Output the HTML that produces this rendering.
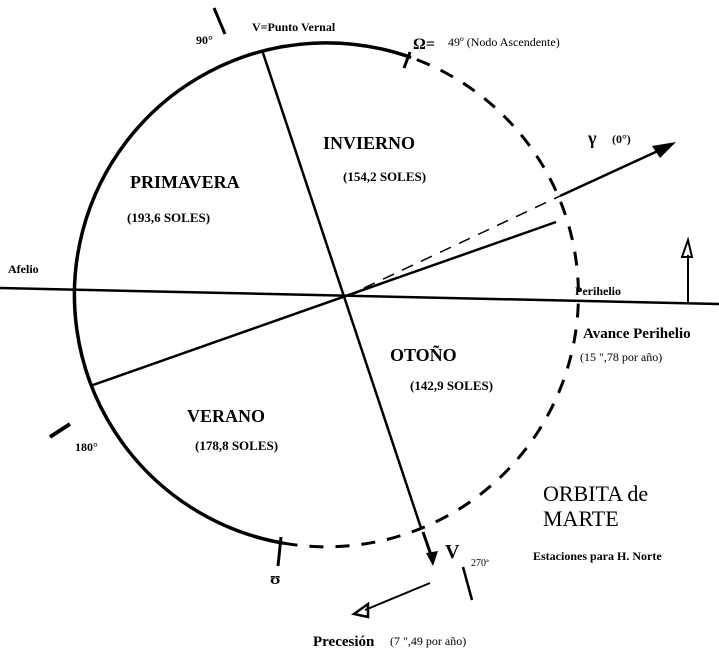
<!DOCTYPE html>
<html><head><meta charset="utf-8"><style>
html,body{margin:0;padding:0;background:#fff;}
svg{display:block;}
text{font-family:"Liberation Serif",serif;fill:#000;}
.b{font-weight:bold;}
</style></head><body>
<svg width="719" height="659" viewBox="0 0 719 659" xmlns="http://www.w3.org/2000/svg">
<!-- orbit solid -->
<path d="M411.1,57.5 A252,252 0 1 0 283.7,543.2" fill="none" stroke="#000" stroke-width="3.5"/>
<!-- orbit dashed -->
<path d="M283.7,543.2 A252,252 0 0 0 411.1,57.5" fill="none" stroke="#000" stroke-width="3" stroke-dasharray="14,12"/>
<!-- axes -->
<line x1="0" y1="288" x2="719" y2="304" stroke="#000" stroke-width="2.5"/>
<line x1="262" y1="50" x2="421" y2="528" stroke="#000" stroke-width="2.5"/>
<line x1="93" y1="385" x2="556" y2="222" stroke="#000" stroke-width="2.5"/>
<line x1="345" y1="297" x2="560" y2="196" stroke="#000" stroke-width="1.5" stroke-dasharray="12,9"/>
<line x1="560" y1="196" x2="660" y2="150" stroke="#000" stroke-width="2.5"/>
<polygon points="676,142 652,146 660,158" fill="#000"/>
<!-- Omega arrowhead -->
<line x1="410" y1="52" x2="404" y2="68" stroke="#000" stroke-width="3"/>
<!-- ticks -->
<line x1="214" y1="8" x2="225" y2="34" stroke="#000" stroke-width="3"/>
<line x1="50" y1="437" x2="70" y2="424" stroke="#000" stroke-width="4"/>
<line x1="281" y1="537" x2="278" y2="566" stroke="#000" stroke-width="3"/>
<line x1="463" y1="567" x2="472" y2="600" stroke="#000" stroke-width="2.5"/>
<!-- V down arrow -->
<line x1="423" y1="532" x2="431" y2="555" stroke="#000" stroke-width="3"/>
<polygon points="426,553 438,551 433,566" fill="#000"/>
<!-- precession arrow -->
<line x1="430" y1="583" x2="365" y2="610" stroke="#000" stroke-width="2"/>
<polygon points="354,614 368,604 368,617" fill="none" stroke="#000" stroke-width="2.5"/>
<!-- avance arrow -->
<line x1="688" y1="302" x2="688" y2="255" stroke="#000" stroke-width="2"/>
<polygon points="688,240 682,257 692,257" fill="none" stroke="#000" stroke-width="2"/>
<!-- labels -->
<text x="196" y="44" font-size="12" class="b">90°</text>
<text x="252" y="31" font-size="12" class="b">V=Punto Vernal</text>
<text x="413" y="49" font-size="16" class="b">Ω=</text>
<text x="448" y="46" font-size="12">49º (Nodo Ascendente)</text>
<text x="588" y="144" font-size="18" class="b">γ</text>
<text x="612" y="143" font-size="12" class="b">(0°)</text>
<text x="323" y="149" font-size="18" class="b">INVIERNO</text>
<text x="343" y="181" font-size="13" class="b">(154,2 SOLES)</text>
<text x="130" y="188" font-size="18" class="b">PRIMAVERA</text>
<text x="127" y="222" font-size="13" class="b">(193,6 SOLES)</text>
<text x="8" y="273" font-size="12" class="b">Afelio</text>
<text x="575" y="295" font-size="12" class="b">Perihelio</text>
<text x="583" y="338" font-size="15" class="b">Avance Perihelio</text>
<text x="580" y="361" font-size="12">(15 ",78 por año)</text>
<text x="390" y="361" font-size="18" class="b">OTOÑO</text>
<text x="410" y="390" font-size="13" class="b">(142,9 SOLES)</text>
<text x="187" y="422" font-size="18" class="b">VERANO</text>
<text x="195" y="450" font-size="13" class="b">(178,8 SOLES)</text>
<text x="75" y="451" font-size="12" class="b">180°</text>
<text x="543" y="501" font-size="22">ORBITA de</text>
<text x="543" y="526" font-size="22">MARTE</text>
<text x="533" y="560" font-size="12" class="b">Estaciones para H. Norte</text>
<text x="445" y="558" font-size="20" class="b">V</text>
<text x="471" y="566" font-size="10">270ª</text>
<text x="270" y="584" font-size="17" class="b">ʊ</text>
<text x="313" y="646" font-size="15" class="b">Precesión</text>
<text x="390" y="645" font-size="12">(7 ",49 por año)</text>
</svg>
</body></html>
